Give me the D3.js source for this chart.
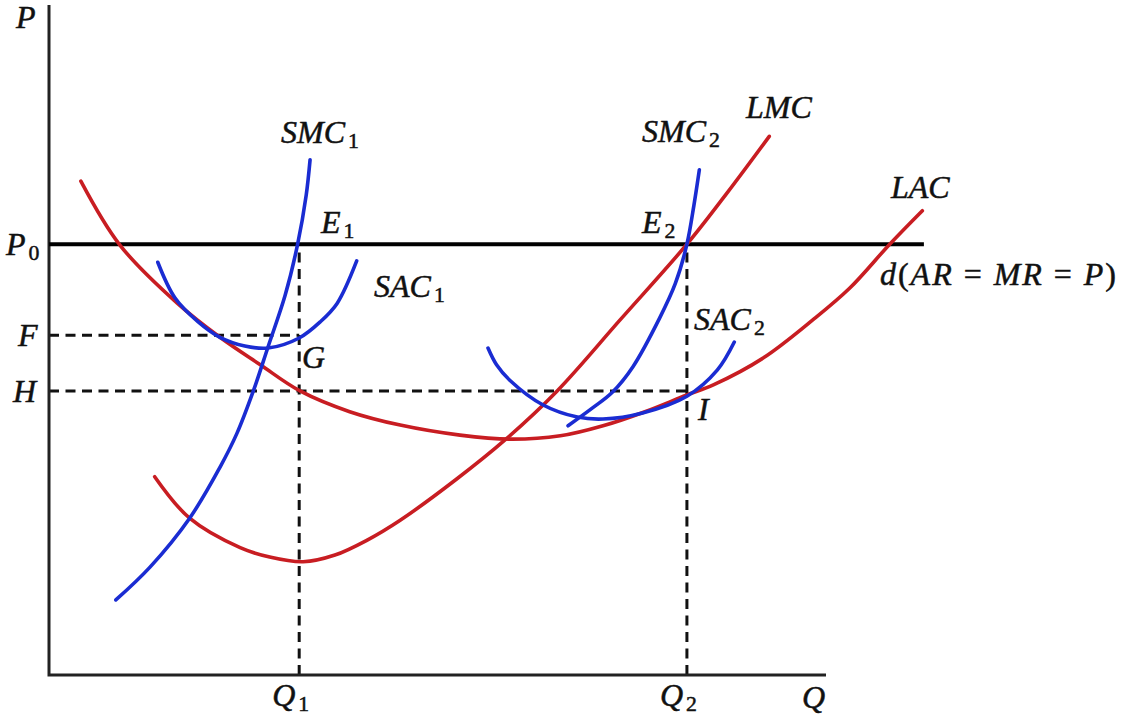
<!DOCTYPE html>
<html>
<head>
<meta charset="utf-8">
<script src="https://cdn.jsdelivr.net/npm/d3@7"></script>
<style>
  html, body { margin: 0; padding: 0; background: #ffffff; }
  svg { display: block; }
  text { font-family: "Liberation Serif", "Times New Roman", serif; fill: #111; stroke: #111; stroke-width: 0.5px; }
</style>
</head>
<body>
<svg id="chart" width="1122" height="726"></svg>
<script>
// ---- price / quantity levels ----
const P0 = 64.3, F = 50.7, H = 42.4;
const Q1 = 32.2, Q2 = 82.1;
const Q_END = 112.6; // right end of the demand line d

// ---- curves: [quantity, price] ----
const LAC = [[4.1,73.7],[9.1,64.2],[16.5,55.5],[22.0,50.4],[27.2,46.3],[32.3,42.4],[38.7,39.3],
             [45.2,37.3],[52.9,35.8],[59.3,35.2],[65.8,35.7],[71.3,37.2],[76.7,39.3],[82.1,41.8],
             [85.5,43.3],[91.9,47.3],[98.3,53.0],[103.1,57.8],[108.2,64.3],[112.4,69.3]];
const LMC = [[13.6,29.6],[18.1,23.4],[24.6,19.0],[28.4,17.6],[32.7,16.9],[36.8,17.9],[40.9,20.1],
             [45.2,23.1],[52.3,29.1],[58.8,35.2],[65.4,42.4],[73.5,53.0],[82.1,64.3],[87.3,72.0],[92.7,80.4]];
const SMC1 = [[8.6,11.2],[13.0,16.1],[18.1,23.4],[22.0,31.0],[24.2,36.1],[26.3,42.4],[28.2,49.0],
              [30.4,56.7],[32.0,64.3],[33.1,71.6],[33.6,76.9]];
const SAC1 = [[14.0,61.6],[16.2,56.3],[19.2,52.7],[22.0,50.4],[25.2,49.1],[28.2,48.8],[32.2,50.3],
              [34.9,52.7],[37.1,55.5],[39.6,61.8]];
const SMC2 = [[66.8,37.2],[70.0,39.9],[72.5,42.2],[75.2,46.1],[78.6,53.3],[80.6,58.4],[82.1,64.3],
              [83.0,70.1],[83.7,75.4]];
const SAC2 = [[56.5,48.8],[57.6,46.3],[59.3,44.0],[63.6,40.3],[68.0,38.5],[71.3,38.2],[76.4,39.1],
              [82.1,41.6],[86.0,45.5],[88.2,49.7]];

// ---- axis / point labels ----
const axisLabelP = "P", axisLabelQ = "Q";
const priceLabels = [["P", "0", P0], ["F", "", F], ["H", "", H]];
const qtyLabels = [["Q", "1", Q1], ["Q", "2", Q2]];
const demandLabel = [["d", "i"], ["(", "u"], ["AR", "i"], [" = ", "u"], ["MR", "i"], [" = ", "u"], ["P", "i"], [")", "u"]];

const RED = "#c81d22", BLUE = "#1a2cd2";

const svg = d3.select("#chart");
const x = d3.scaleLinear().domain([0, 100]).range([49, 826]);
const y = d3.scaleLinear().domain([0, 100]).range([675, 5]);

const line = d3.line().x(d => x(d[0])).y(d => y(d[1])).curve(d3.curveCatmullRom.alpha(0.5));
const straight = d3.line().x(d => x(d[0])).y(d => y(d[1]));

// dashed guide lines
const dash = "10,6.5";
const guides = [
  [[0, F], [Q1, F]],
  [[0, H], [Q2, H]],
  [[Q1, 0], [Q1, P0]],
  [[Q2, 0], [Q2, P0]]
];
svg.append("g").selectAll("path").data(guides).join("path")
  .attr("d", straight).attr("fill", "none").attr("stroke", "#111")
  .attr("stroke-width", 3).attr("stroke-dasharray", dash);

// axes
svg.append("path").attr("d", straight([[0, 100], [0, 0], [100, 0]]))
  .attr("fill", "none").attr("stroke", "#222").attr("stroke-width", 3);

// demand line d
svg.append("path").attr("d", straight([[0, P0], [Q_END, P0]]))
  .attr("fill", "none").attr("stroke", "#000").attr("stroke-width", 4);

// curves
const curves = [
  [LAC, RED], [LMC, RED], [SAC1, BLUE], [SMC1, BLUE], [SAC2, BLUE], [SMC2, BLUE]
];
svg.append("g").selectAll("path").data(curves).join("path")
  .attr("d", d => line(d[0])).attr("fill", "none").attr("stroke", d => d[1])
  .attr("stroke-width", 3.6).attr("stroke-linecap", "round");

// label helper: parts = [[text, kind]] kind: "i" italic, "s" subscript, "u" upright
function label(parts, px, py, size) {
  size = size || 32;
  const t = svg.append("text").attr("x", px).attr("y", py).attr("font-size", size)
    .attr("xml:space", "preserve").style("white-space", "pre");
  parts.forEach(p => {
    const ts = t.append("tspan").text(p[0]);
    if (p[1] === "i") ts.attr("font-style", "italic");
    if (p[1] === "s") ts.attr("font-size", size * 0.68).attr("dy", 5).attr("dx", 3);
    if (p[1] === "u") ts.attr("font-style", "normal");
  });
  return t;
}

label([[axisLabelP, "i"]], 16, 28);
label([[axisLabelQ, "i"]], 802, 708);
priceLabels.forEach(d => {
  const parts = [[d[0], "i"]];
  if (d[1]) parts.push([d[1], "s"]);
  label(parts, d[0] === "P" ? 6 : (d[0] === "F" ? 18 : 13), y(d[2]) + 11);
});
qtyLabels.forEach(d => {
  label([[d[0], "i"], [d[1], "s"]], x(d[2]) - 27, 706);
});

label([["SMC", "i"], ["1", "s"]], 281, 143);
label([["SMC", "i"], ["2", "s"]], 642, 142);
label([["LMC", "i"]], 746, 118);
label([["LAC", "i"]], 891, 198);
label([["E", "i"], ["1", "s"]], 321, 233);
label([["E", "i"], ["2", "s"]], 642, 233);
label([["SAC", "i"], ["1", "s"]], 374, 297);
label([["SAC", "i"], ["2", "s"]], 694, 330);
label([["G", "i"]], 302, 368);
label([["I", "i"]], 698, 420);

// d(AR = MR = P), stretched to the width it has in the picture
const dt = label(demandLabel, 880, 285, 32);
dt.attr("textLength", 236).attr("lengthAdjust", "spacing");
</script>
</body>
</html>
